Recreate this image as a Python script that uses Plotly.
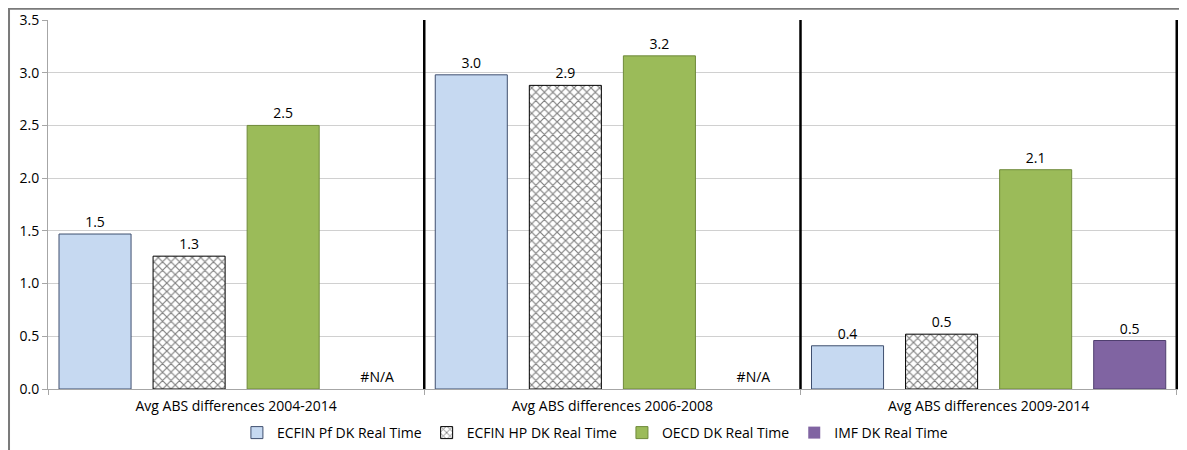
import plotly.graph_objects as go

categories = ["Avg ABS differences 2004-2014", "Avg ABS differences 2006-2008", "Avg ABS differences 2009-2014"]
ecfin_pf = [1.47, 2.98, 0.41]
ecfin_hp = [1.26, 2.88, 0.52]
oecd = [2.50, 3.16, 2.08]
imf = [None, None, 0.46]
series_names = ["ECFIN Pf DK Real Time", "ECFIN HP DK Real Time", "OECD DK Real Time", "IMF DK Real Time"]
y_ticks = [0.0, 0.5, 1.0, 1.5, 2.0, 2.5, 3.0, 3.5]

FONT = "Open Sans"
FS = 14
fig = go.Figure()

def labels(vals):
    return ["#N/A" if v is None else f"{v:.1f}" for v in vals]

def plotvals(vals):
    return [0 if v is None else v for v in vals]

def linew(vals, w):
    return [0 if v is None else w for v in vals]

styles = [
    dict(color="#c6d9f1", line=dict(color="#3f4f6f", width=1)),
    dict(color="white", line=dict(color="black", width=1),
         pattern=dict(shape="x", fgcolor="black", bgcolor="white", size=6, solidity=0.35)),
    dict(color="#9bbb59", line=dict(color="#6f8a3a", width=1)),
    dict(color="#8064a2", line=dict(color="#4f3f6f", width=1)),
]

for name, vals, st in zip(series_names, [ecfin_pf, ecfin_hp, oecd, imf], styles):
    st = dict(st)
    st["line"] = dict(color=st["line"]["color"], width=linew(vals, st["line"]["width"]))
    fig.add_trace(go.Bar(
        x=categories, y=plotvals(vals), name=name, marker=st,
        text=labels(vals), textposition="outside", cliponaxis=False,
        textfont=dict(family=FONT, size=FS, color="black"),
    ))

# thick separators at category boundaries
for b in [0.5, 1.5, 2.5]:
    fig.add_shape(type="line", xref="x", yref="paper", x0=b, x1=b, y0=0, y1=1,
                  line=dict(color="black", width=2.5))

# outer chart frame
fig.add_shape(type="rect", xref="paper", yref="paper",
              x0=-0.0345, x1=1.03, y0=-0.25, y1=1.0305,
              line=dict(color="#7a7a7a", width=2))

fig.update_layout(
    width=1187, height=450,
    margin=dict(l=40, r=17, t=12, b=69, autoexpand=False),
    paper_bgcolor="white", plot_bgcolor="white",
    barmode="group", bargap=0.0, bargroupgap=0.234,
    font=dict(family=FONT, size=FS, color="black"),
    showlegend=True,
    legend=dict(orientation="h", x=0.484, xanchor="center",
                yref="container", y=(450 - 425) / 450, yanchor="middle",
                font=dict(family=FONT, size=FS), traceorder="normal"),
)
fig.update_xaxes(
    type="category", showline=True, linecolor="#a6a6a6", linewidth=1,
    ticks="outside", tickson="boundaries", ticklen=5, tickcolor="#a6a6a6",
    showgrid=False, tickfont=dict(family=FONT, size=FS), automargin=False,
    ticklabelstandoff=4,
)
fig.update_yaxes(
    range=[0, 3.5], tickvals=y_ticks, tickformat=".1f",
    showline=True, linecolor="#a6a6a6", linewidth=1,
    ticks="outside", ticklen=5, tickcolor="#a6a6a6",
    showgrid=True, gridcolor="#d0d0d0", gridwidth=1, zeroline=False,
    tickfont=dict(family=FONT, size=FS), automargin=False,
)

fig.write_html("out.html")
